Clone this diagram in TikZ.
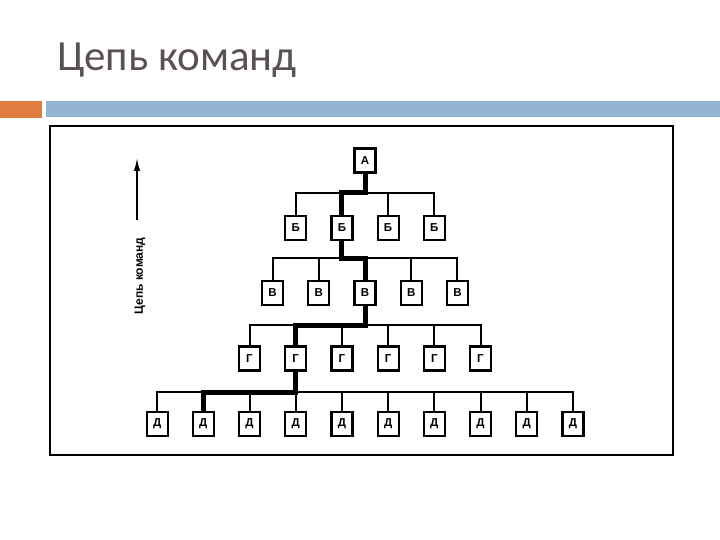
\documentclass[tikz,border=0pt]{standalone}
\usepackage{fontspec}
\setmainfont{Carlito}
\setsansfont{Liberation Sans}
\usetikzlibrary{arrows.meta}
\definecolor{titlegrey}{RGB}{90,82,80}
\definecolor{barorange}{RGB}{223,124,62}
\definecolor{barblue}{RGB}{148,180,212}
\tikzset{
  unitbox/.style={draw, line width=2.2pt, fill=white, minimum width=21pt, minimum height=24pt, inner sep=0pt, font=\sffamily\bfseries\fontsize{11.5}{11.5}\selectfont},
  wire/.style={line width=2pt},
  chainpath/.style={line width=5pt, line join=miter, line cap=butt},
  sidelabel/.style={font=\sffamily\bfseries\fontsize{12}{12}\selectfont, rotate=90}
}

\begin{document}
\begin{tikzpicture}[x=1pt, y=-1pt, >=Latex]
  \useasboundingbox (0,0) rectangle (720,540);
  % title and bars
  \node[anchor=base west, inner sep=0pt, text=titlegrey, font=\fontsize{43}{43}\selectfont] (title) at (57,71) {Цепь команд};
  \fill[barorange] (0,101) rectangle (42,118);
  \fill[barblue] (46,101) rectangle (720,117);
  \draw[line width=2pt] (50,126) rectangle (673,455);

  % side arrow
  \coordinate (arrowtail) at (137,220);
  \coordinate (arrowtip) at (137,158);
  \draw[line width=1.7pt, -{Latex[length=13pt, width=6.5pt]}] (arrowtail) -- (arrowtip);
  \node[sidelabel] (chainlabel) at (140,276) {Цепь команд};

  % bus levels
  \coordinate (busab) at (0,193);
  \coordinate (busbc) at (0,258);
  \coordinate (buscd) at (0,325);
  \coordinate (busde) at (0,392);

  % units, one row per level
  \node[unitbox] (a) at (365,160.5) {А};
  \foreach \k [count=\i] in {-3,-1,1,3}
    \node[unitbox] (b\i) at (365+23.1*\k,228) {Б};
  \foreach \k [count=\i] in {-4,-2,0,2,4}
    \node[unitbox] (c\i) at (365+23.1*\k,293) {В};
  \foreach \k [count=\i] in {-5,-3,-1,1,3,5}
    \node[unitbox] (d\i) at (365+23.1*\k,358.5) {Г};
  \foreach \k [count=\i] in {-9,-7,-5,-3,-1,1,3,5,7,9}
    \node[unitbox] (e\i) at (365+23.1*\k,424) {Д};

  % connectors
  \draw[wire] (a.south) -- (a.south |- busab);
  \foreach \i in {1,...,4}
    \draw[wire] (b\i.north) |- (a.south |- busab);
  \draw[wire] (b2.south) -- (b2.south |- busbc);
  \foreach \i in {1,...,5}
    \draw[wire] (c\i.north) |- (b2.south |- busbc);
  \draw[wire] (c3.south) -- (c3.south |- buscd);
  \foreach \i in {1,...,6}
    \draw[wire] (d\i.north) |- (c3.south |- buscd);
  \draw[wire] (d2.south) -- (d2.south |- busde);
  \foreach \i in {1,...,10}
    \draw[wire] (e\i.north) |- (d2.south |- busde);

  % chain of command
  \draw[chainpath] (a.south) -- (a.south |- busab) -| (b2.north)
    (b2.south) -- (b2.south |- busbc) -| (c3.north)
    (c3.south) -- (c3.south |- buscd) -| (d2.north)
    (d2.south) -- (d2.south |- busde) -| (e2.north);
\end{tikzpicture}
\end{document}
